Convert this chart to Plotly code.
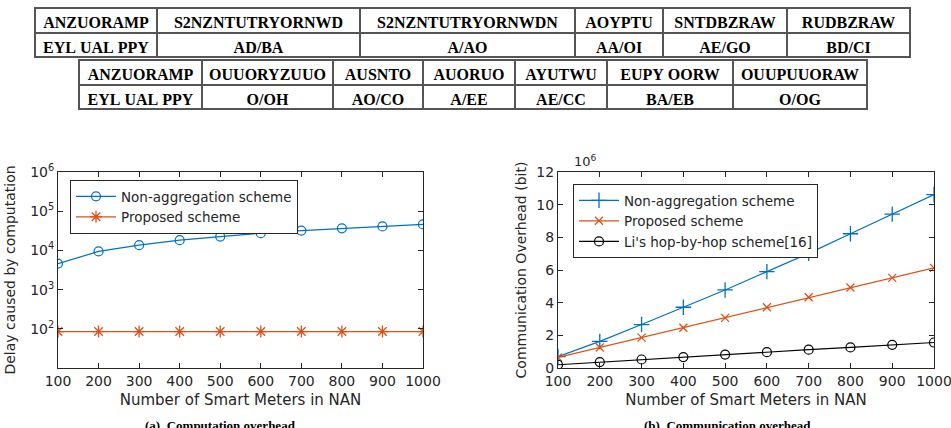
import plotly.graph_objects as go

W, H = 951, 428

# ---------------- data ----------------
meters = [100, 200, 300, 400, 500, 600, 700, 800, 900, 1000]

# (a) delay caused by computation (log scale)
delay_nonagg = [4600, 9400, 13600, 18200, 22500, 27500, 32000, 36500, 41000, 46000]
delay_proposed = [85, 85, 85, 85, 85, 85, 85, 85, 85, 85]

# (b) communication overhead (x 10^6 bit)
comm_nonagg = [0.70, 1.63, 2.66, 3.72, 4.78, 5.90, 7.02, 8.22, 9.42, 10.62]
comm_proposed = [0.65, 1.26, 1.86, 2.46, 3.07, 3.72, 4.33, 4.93, 5.52, 6.13]
comm_li = [0.20, 0.36, 0.52, 0.67, 0.82, 0.97, 1.12, 1.26, 1.42, 1.56]

y_log_tickvals = [1e2, 1e3, 1e4, 1e5, 1e6]
y_log_ticktext = ["10<sup>2</sup>", "10<sup>3</sup>", "10<sup>4</sup>", "10<sup>5</sup>", "10<sup>6</sup>"]
y_lin_tickvals = [0, 2, 4, 6, 8, 10, 12]

NB = "\u00a0"
# tables (glyphs as rendered in the reference)
table1_header = ["ANZUORAMP", "S2NZNTUTRYORNWD", "S2NZNTUTRYORNWDN",
                 "AOYPTU", "SNTDBZRAW", "RUDBZRAW"]
table1_row = ["EYL" + NB + "UAL" + NB + "PPY", "AD/BA", "A/AO", "AA/OI", "AE/GO", "BD/CI"]
table1_widths = [122, 203, 215, 88, 124, 123]

table2_header = ["ANZUORAMP", "OUUORYZUUO", "AUSNTO", "AUORUO", "AYUTWU",
                 "EUPY" + NB + "OORW", "OUUPUUORAW"]
table2_row = ["EYL" + NB + "UAL" + NB + "PPY", "O/OH", "AO/CO", "A/EE", "AE/CC", "BA/EB", "O/OG"]
table2_widths = [123, 131, 90, 92, 92, 126, 134]

captions = ["(a)  Computation overhead", "(b)  Communication overhead"]

# ---------------- helpers ----------------
def px_x(p):
    return p / W

def px_y(p):
    return 1 - p / H

BLUE = "#0072BD"
ORANGE = "#D95319"
AX = "#262626"
FONT = "DejaVu Sans"

fig = go.Figure()

# tables
tfont = dict(family="Liberation Serif", size=16, color="black", weight="bold")
for hdr, row, widths, x0, x1, y0, y1 in [
    (table1_header, table1_row, table1_widths, 35, 910, 8, 60),
    (table2_header, table2_row, table2_widths, 79, 867, 60, 112),
]:
    fig.add_trace(go.Table(
        domain=dict(x=[px_x(x0), px_x(x1)], y=[px_y(y1), px_y(y0)]),
        columnwidth=widths,
        header=dict(values=[[h] for h in hdr], fill_color="white",
                    line=dict(color="#555555", width=1.2), align="center",
                    font=tfont, height=25),
        cells=dict(values=[[c] for c in row], fill_color="white",
                   line=dict(color="#555555", width=1.2), align="center",
                   font=tfont, height=24),
    ))

# (a)
fig.add_trace(go.Scatter(x=meters, y=delay_nonagg, mode="lines+markers",
                         name="Non-aggregation scheme", xaxis="x", yaxis="y",
                         line=dict(color=BLUE, width=1.2),
                         marker=dict(symbol="circle-open", size=9, color=BLUE, line=dict(width=1.2)),
                         legend="legend"))
fig.add_trace(go.Scatter(x=meters, y=delay_proposed, mode="lines+markers",
                         name="Proposed scheme", xaxis="x", yaxis="y",
                         line=dict(color=ORANGE, width=1.2),
                         marker=dict(symbol="asterisk-open", size=10, color=ORANGE, line=dict(width=1.3)),
                         legend="legend"))

# (b)
fig.add_trace(go.Scatter(x=meters, y=comm_nonagg, mode="lines+markers",
                         name="Non-aggregation scheme", xaxis="x2", yaxis="y2",
                         line=dict(color=BLUE, width=1.2),
                         marker=dict(symbol="cross-thin-open", size=11, color=BLUE, line=dict(width=1.3, color=BLUE)),
                         legend="legend2"))
fig.add_trace(go.Scatter(x=meters, y=comm_proposed, mode="lines+markers",
                         name="Proposed scheme", xaxis="x2", yaxis="y2",
                         line=dict(color=ORANGE, width=1.2),
                         marker=dict(symbol="x-thin-open", size=8, color=ORANGE, line=dict(width=1.3, color=ORANGE)),
                         legend="legend2"))
fig.add_trace(go.Scatter(x=meters, y=comm_li, mode="lines+markers",
                         name="Li's hop-by-hop scheme[16]", xaxis="x2", yaxis="y2",
                         line=dict(color="black", width=1.2),
                         marker=dict(symbol="circle-open", size=9, color="black", line=dict(width=1.2)),
                         legend="legend2"))

axis_common = dict(showline=True, mirror="ticks", linecolor=AX, linewidth=1,
                   ticks="inside", ticklen=5, tickcolor=AX, showgrid=False, zeroline=False,
                   automargin=False, ticklabeloverflow="allow",
                   tickfont=dict(family=FONT, size=14, color=AX))

fig.update_layout(
    template="none",
    width=W, height=H,
    margin=dict(l=0, r=0, t=0, b=0, autoexpand=False),
    paper_bgcolor="white", plot_bgcolor="white",
    font=dict(family=FONT, color=AX),
    xaxis=dict(domain=[px_x(58), px_x(423)], anchor="y", range=[100, 1000],
               tickvals=meters, title=dict(text="Number of Smart Meters in NAN",
                                           font=dict(size=15, color=AX), standoff=6),
               **axis_common),
    yaxis=dict(domain=[px_y(368), px_y(172)], anchor="x", type="log", range=[1, 6],
               tickvals=y_log_tickvals, ticktext=y_log_ticktext,
               title=dict(text="Delay caused by computation", font=dict(size=14, color=AX), standoff=11),
               **axis_common),
    xaxis2=dict(domain=[px_x(558), px_x(934)], anchor="y2", range=[100, 1000],
                tickvals=meters, title=dict(text="Number of Smart Meters in NAN",
                                            font=dict(size=15, color=AX), standoff=6),
                **axis_common),
    yaxis2=dict(domain=[px_y(368), px_y(172)], anchor="x2", range=[0, 12],
                tickvals=y_lin_tickvals,
                title=dict(text="Communication Overhead (bit)", font=dict(size=14, color=AX), standoff=6),
                **axis_common),
    legend=dict(x=px_x(70), y=px_y(180), xanchor="left", yanchor="top",
                bgcolor="white", bordercolor=AX, borderwidth=1, itemwidth=40,
                font=dict(family=FONT, size=13.5, color=AX), tracegroupgap=0),
    legend2=dict(x=px_x(573), y=px_y(184), xanchor="left", yanchor="top",
                 bgcolor="white", bordercolor=AX, borderwidth=1, itemwidth=40,
                 font=dict(family=FONT, size=13.5, color=AX), tracegroupgap=0),
    showlegend=True,
)

fig.add_annotation(x=px_x(572), y=px_y(161), xref="paper", yref="paper",
                   xanchor="left", yanchor="middle", showarrow=False,
                   text="10<sup>6</sup>", font=dict(family=FONT, size=13, color=AX))

for cx, txt in zip([220, 727], captions):
    fig.add_annotation(x=px_x(cx), y=px_y(416), xref="paper", yref="paper",
                       xanchor="center", yanchor="top", showarrow=False,
                       text="<b>" + txt + "</b>",
                       font=dict(family="Liberation Serif", size=13, color="black"))

fig.write_html("out.html")
